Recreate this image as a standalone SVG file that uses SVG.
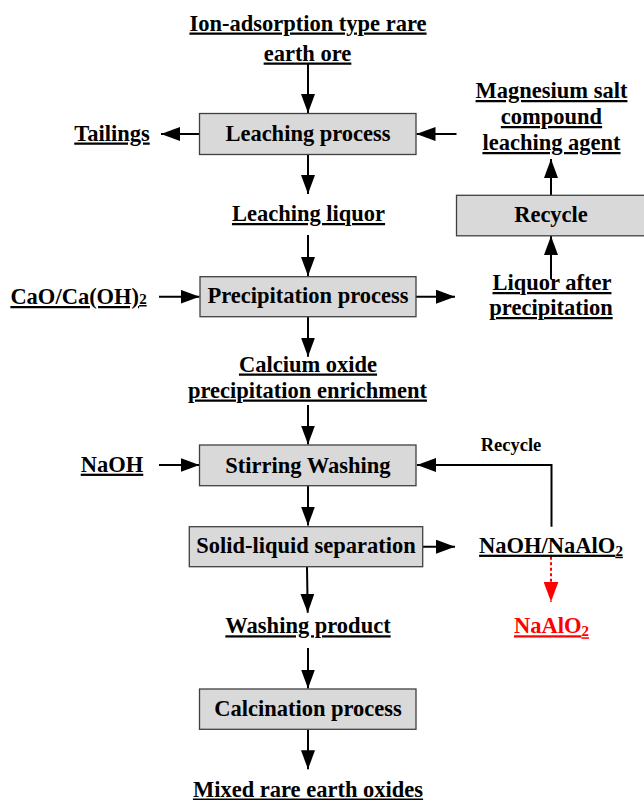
<svg xmlns="http://www.w3.org/2000/svg" width="644" height="800" viewBox="0 0 644 800">
<defs>
<style>
text{font-family:"Liberation Serif","Times New Roman",serif;font-weight:bold;font-size:22.5px;fill:#000;text-anchor:middle}
.u{text-decoration:underline}
.red{fill:#ff0000}
.box{fill:#d9d9d9;stroke:#404040;stroke-width:1.3}
.ln{stroke:#000;stroke-width:2;fill:none}
.rd{stroke:#ff0000;stroke-width:2;fill:none;stroke-dasharray:3 2.5}
.small{font-size:18.5px}
</style>
<marker id="ah" markerUnits="userSpaceOnUse" markerWidth="19" markerHeight="14" refX="19" refY="7" orient="auto"><path d="M0,0 L19,7 L0,14 z" fill="#000"/></marker>
<marker id="ahr" markerUnits="userSpaceOnUse" markerWidth="20" markerHeight="15" refX="20" refY="7.5" orient="auto"><path d="M0,0 L20,7.5 L0,15 z" fill="#ff0000"/></marker>
</defs>
<rect width="644" height="800" fill="#fff"/>
<g id="connectors">
<line class="ln" x1="308" y1="63" x2="308" y2="113" marker-end="url(#ah)"/>
<line class="ln" x1="199.5" y1="134" x2="161" y2="134" marker-end="url(#ah)"/>
<line class="ln" x1="456.5" y1="134" x2="416.5" y2="134" marker-end="url(#ah)"/>
<line class="ln" x1="551" y1="195" x2="551" y2="159" marker-end="url(#ah)"/>
<line class="ln" x1="551" y1="279" x2="551" y2="236" marker-end="url(#ah)"/>
<line class="ln" x1="308" y1="154.5" x2="308" y2="194" marker-end="url(#ah)"/>
<line class="ln" x1="308" y1="235" x2="308" y2="276" marker-end="url(#ah)"/>
<line class="ln" x1="159" y1="296.7" x2="199.5" y2="296.7" marker-end="url(#ah)"/>
<line class="ln" x1="416" y1="296.7" x2="455" y2="296.7" marker-end="url(#ah)"/>
<line class="ln" x1="308" y1="317" x2="308" y2="356.7" marker-end="url(#ah)"/>
<line class="ln" x1="308" y1="405" x2="308" y2="444.5" marker-end="url(#ah)"/>
<line class="ln" x1="159" y1="465" x2="199.5" y2="465" marker-end="url(#ah)"/>
<polyline class="ln" points="551.5,526.7 551.5,465 417,465" marker-end="url(#ah)"/>
<line class="ln" x1="308" y1="486" x2="308" y2="525.5" marker-end="url(#ah)"/>
<line class="ln" x1="422.7" y1="546.7" x2="455" y2="546.7" marker-end="url(#ah)"/>
<line class="rd" x1="551" y1="556.7" x2="551" y2="601.7" marker-end="url(#ahr)"/>
<line class="ln" x1="307" y1="567" x2="307.7" y2="612.7" marker-end="url(#ah)"/>
<line class="ln" x1="308" y1="648" x2="308" y2="688.5" marker-end="url(#ah)"/>
<line class="ln" x1="308" y1="729.5" x2="308" y2="769.3" marker-end="url(#ah)"/>
</g>
<g id="ore"><text class="u" x="308" y="30.5">Ion-adsorption type rare</text><text class="u" x="307.5" y="60.5">earth ore</text></g>
<g id="leaching"><rect class="box" x="199.5" y="113.5" width="216.5" height="41"/><text x="308" y="140.5">Leaching process</text></g>
<g id="tailings"><text class="u" x="112" y="140.5">Tailings</text></g>
<g id="agent"><text class="u" x="551.5" y="98">Magnesium salt</text><text class="u" x="551.5" y="124">compound</text><text class="u" x="551.5" y="150">leaching agent</text></g>
<g id="recycle1"><rect class="box" x="456.5" y="195.3" width="192" height="40.5"/><text x="551" y="222">Recycle</text></g>
<g id="liquor"><text class="u" x="308.5" y="221">Leaching liquor</text></g>
<g id="precip"><rect class="box" x="200" y="276.7" width="216" height="40"/><text x="308" y="303">Precipitation process</text></g>
<g id="cao"><text class="u" x="78.5" y="304">CaO/Ca(OH)<tspan font-size="15">2</tspan></text></g>
<g id="liquorafter"><text class="u" x="552" y="290">Liquor after</text><text class="u" x="551" y="315">precipitation</text></g>
<g id="calcium"><text class="u" x="308" y="371.5">Calcium oxide</text><text class="u" x="307.5" y="397.5">precipitation enrichment</text></g>
<g id="stirring"><rect class="box" x="199.5" y="445" width="216.5" height="40.7"/><text x="308" y="472.5">Stirring Washing</text></g>
<g id="naoh"><text class="u" x="112" y="471.7">NaOH</text></g>
<g id="recyclelabel"><text class="small" x="511" y="451">Recycle</text></g>
<g id="separation"><rect class="box" x="189.3" y="526.7" width="233.4" height="40"/><text x="306" y="553.3">Solid-liquid separation</text></g>
<g id="naohnaalo2"><text class="u" x="551" y="552.7">NaOH/NaAlO<tspan font-size="15" dy="3">2</tspan></text></g>
<g id="washing"><text class="u" x="308" y="633.3">Washing product</text></g>
<g id="naalo2"><text class="u red" x="551.5" y="633.3">NaAlO<tspan font-size="15" dy="3">2</tspan></text></g>
<g id="calcination"><rect class="box" x="199.5" y="689" width="216.5" height="40.3"/><text x="308" y="716">Calcination process</text></g>
<g id="mixed"><text class="u" x="308" y="796.5">Mixed rare earth oxides</text></g>
</svg>
